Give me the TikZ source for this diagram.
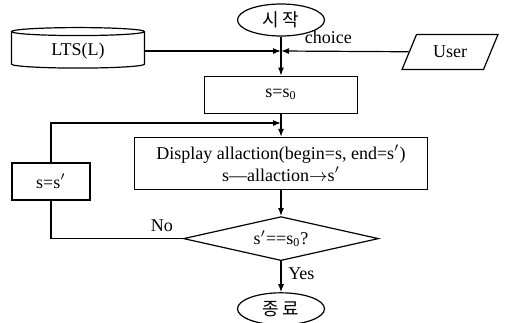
\documentclass[tikz,border=0pt]{standalone}
\usepackage{fontspec}
\setmainfont{Liberation Serif}
\newfontfamily\kor{Noto Sans CJK KR}
\usepackage{tikz}
\usetikzlibrary{positioning, arrows.meta, shapes, shapes.geometric}

\begin{document}
\begin{tikzpicture}[x=0.5pt, y=-0.5pt, node distance=11.5pt and 1cm, line width=0.6pt, font=\fontsize{9}{11}\selectfont]
        \tikzstyle{term} = [ellipse, draw, minimum width=43.5pt, minimum height=16pt, inner sep=0pt]
        \tikzstyle{proc} = [rectangle, draw, minimum height=18.5pt, inner sep=2pt, align=center]
        \tikzstyle{dec} = [diamond, draw, aspect=4.4, minimum width=97.5pt, minimum height=22pt, inner sep=0pt]
        \tikzstyle{store} = [cylinder, draw, shape border rotate=90, aspect=0.12, minimum width=66.5pt, minimum height=17.5pt]
        \tikzstyle{io} = [trapezium, draw, trapezium left angle=68, trapezium right angle=112, trapezium stretches=true, minimum width=48pt, minimum height=17.5pt]
        \tikzstyle{arrow} = [-{Latex[length=4pt, width=3pt]}]

        \useasboundingbox (0,0) rectangle (517,322);

        \node [term] (start) at (281,20) {\kor 시\,작};
        \node [proc, minimum width=76.5pt, below=19.5pt of start] (init) {s=s\textsubscript{0}};
        \node [proc, minimum width=146.5pt, minimum height=26pt, inner sep=1pt, below=11.5pt of init] (show) {Display allaction(begin=s, end=s$'$)\\s---allaction$\rightarrow$s$'$};
        \node [dec, below=13pt of show] (check) {s$'$==s\textsubscript{0}?};
        \node [term, below=15.5pt of check] (stop) {\kor 종\,료};

        \node [store] (lts) at (78,51) {LTS(L)};
        \node [io] (user) at (450,52) {User};
        \node [proc, minimum width=39pt] (update) at (51,181.5) {s=s$'$};

        \coordinate (merge) at (start.south |- lts.east);
        \coordinate (back) at (start.south |- 0,123);

        \draw [arrow] (start) -- (init);
        \draw [arrow] (lts.east) -- (merge);
        \draw [arrow] (user) -- node [above, pos=0.63] {choice} (merge);
        \draw [arrow] (init) -- (show);
        \draw [arrow] (show) -- (check);
        \draw [arrow] (check) -- node [right, pos=0.4] {Yes} (stop);
        \draw (check.west) -| node [above, pos=0.08] {No} (update.south);
        \draw [arrow] (update.north) |- (back);
    \end{tikzpicture}
\end{document}
